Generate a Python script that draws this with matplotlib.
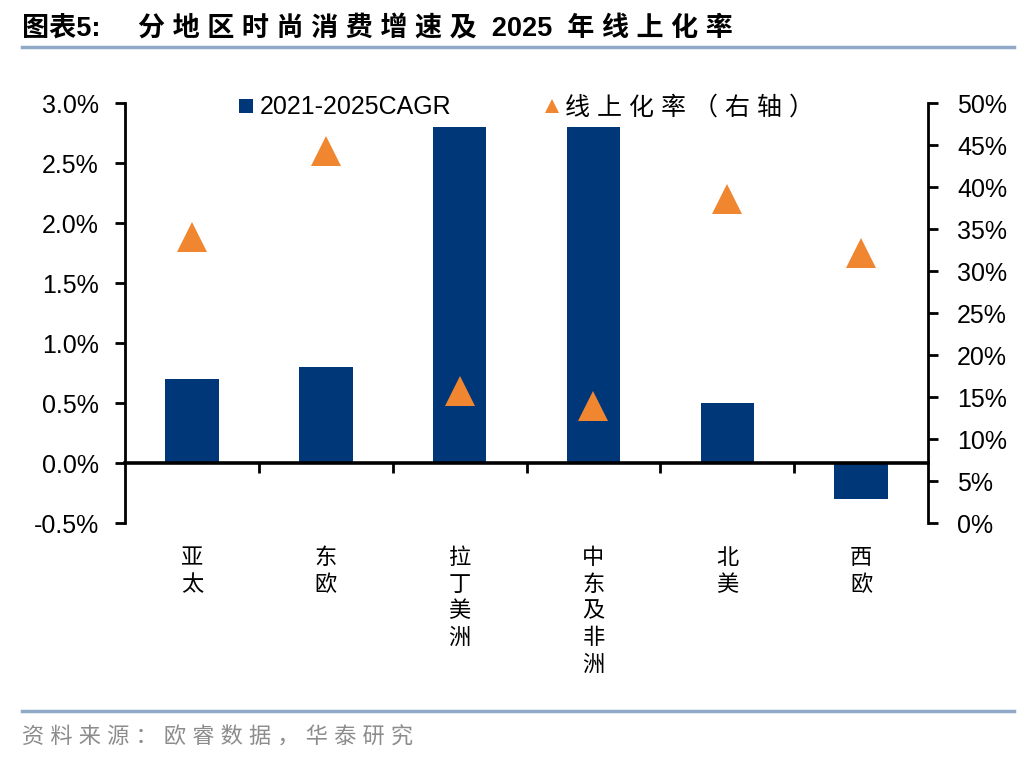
import matplotlib
matplotlib.use("Agg")
import matplotlib.pyplot as plt
import matplotlib.transforms as mtransforms
from matplotlib.lines import Line2D
from matplotlib.ticker import FuncFormatter, MultipleLocator

FONTS = ['Liberation Sans', 'Noto Sans CJK SC']
plt.rcParams['font.family'] = FONTS

# data
regions = ["亚太", "东欧", "拉丁美洲", "中东及非洲", "北美", "西欧"]
cagr = [0.7, 0.8, 2.8, 2.8, 0.5, -0.3]            # %, left axis
online_rate = [34.0, 44.3, 15.7, 13.9, 38.6, 32.1]  # %, right axis
series_names = ["2021-2025CAGR", "线上化率（右轴）"]
title = "图表5:     " + " ".join("分地区时尚消费增速及") + "  2025  " + " ".join("年线上化率")
source = " ".join("资料来源：欧睿数据，华泰研究")

BAR_COLOR = "#003778"
TRI_COLOR = "#F08630"
RULE_COLOR = "#8FA9C7"

fig = plt.figure(figsize=(10.36, 7.64), dpi=100)
ax = fig.add_axes([0.1207, 0.3154, 0.7751, 0.5497])
ax2 = ax.twinx()

x = list(range(len(regions)))
ax.bar(x, cagr, width=0.4, color=BAR_COLOR, zorder=2)
ax2.plot(x, online_rate, linestyle="none", marker="^", markersize=21,
         color=TRI_COLOR, markeredgewidth=0, zorder=3)

ax.set_xlim(-0.5, len(regions) - 0.5)
ax.set_ylim(-0.5, 3.0)
ax2.set_ylim(0, 50)
ax.yaxis.set_major_locator(MultipleLocator(0.5))
ax2.yaxis.set_major_locator(MultipleLocator(5))
ax.yaxis.set_major_formatter(FuncFormatter(lambda v, p: f"{v:.1f}%"))
ax2.yaxis.set_major_formatter(FuncFormatter(lambda v, p: f"{v:.0f}%"))

# zero line as the category axis, ticks at category boundaries
ax.spines['bottom'].set_position(('data', 0))
ax.spines['bottom'].set_linewidth(2.6)
ax.set_xticks([i + 0.5 for i in x[:-1]])
ax.set_xticklabels([])
ax.tick_params(axis='x', direction='out', length=7, width=2)

for a in (ax, ax2):
    a.spines['top'].set_visible(False)
    a.spines['left'].set_linewidth(2)
    a.spines['right'].set_linewidth(2)
ax2.spines['bottom'].set_visible(False)
ax.spines['right'].set_visible(False)
ax2.spines['left'].set_visible(False)
ax.tick_params(axis='y', direction='out', length=7, width=2, pad=12, labelsize=18)
ax2.tick_params(axis='y', direction='out', length=7, width=2, pad=14, labelsize=18)

# vertical category labels below the plot
trans = mtransforms.blended_transform_factory(ax.transData, ax.transAxes)
for i, name in enumerate(regions):
    ax.text(i, -0.055, "\n".join(name), transform=trans, ha='center', va='top',
            fontsize=16, family='Noto Sans CJK SC', fontweight='light',
            linespacing=1.2)

# legend
handles = [
    Line2D([], [], linestyle='none', marker='s', markersize=10.5,
           color=BAR_COLOR, markeredgewidth=0),
    Line2D([], [], linestyle='none', marker='^', markersize=10,
           color=TRI_COLOR, markeredgewidth=0),
]
labels = [series_names[0], " ".join(series_names[1])]
ax.legend(handles, labels, loc='center', bbox_to_anchor=(0.5, 0.99), ncol=2,
          frameon=False, fontsize=18, handlelength=0.6, handletextpad=0.25,
          columnspacing=3.7)

# title, rules and source
fig.text(0.021, 0.961, title, fontsize=19.5, fontweight='bold', va='center',
         ha='left', family=FONTS)
fig.add_artist(Line2D([0.021, 0.979], [0.938, 0.938], color=RULE_COLOR, linewidth=2.5))
fig.add_artist(Line2D([0.021, 0.979], [0.069, 0.069], color=RULE_COLOR, linewidth=2.5))
fig.text(0.021, 0.034, source, fontsize=16, color="#8C8C8C", va='center',
         ha='left', family=FONTS, fontweight='light')

fig.savefig("out.png", dpi=100)
